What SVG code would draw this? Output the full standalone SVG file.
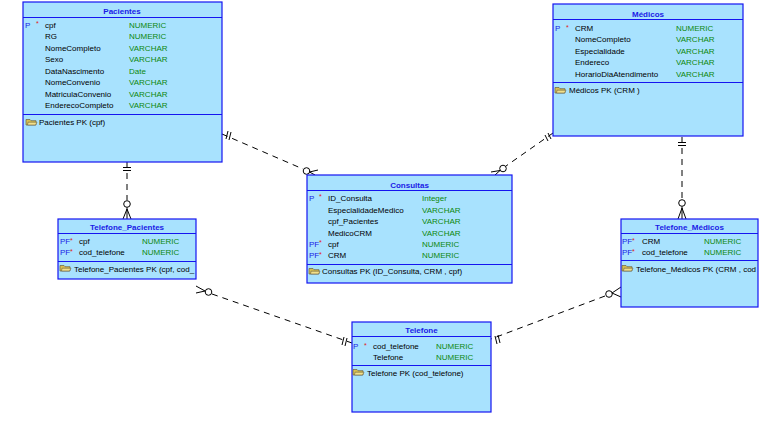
<svg xmlns="http://www.w3.org/2000/svg" width="768" height="421" viewBox="0 0 768 421">
<defs>
<style>
.box{fill:#a8e2fe;stroke:#1515f0;stroke-width:1.2}
.sep{stroke:#1515f0;stroke-width:1}
text{font-family:"Liberation Sans",Arial,sans-serif;font-size:8px;fill:#000}
.hd{font-weight:bold;fill:#1a1ae6;text-anchor:middle}
.ty{fill:#0c880c}
.k{fill:#1a1ae6}
.st{fill:#e02020;font-size:7px}
.con{fill:none;stroke:#000;stroke-width:1;stroke-dasharray:6,5}
.sym{fill:none;stroke:#000;stroke-width:1}
</style>
<g id="keyicon">
<path d="M0,0.5 h4 l1,1.2 h5 v4.3 h-10 z" fill="#d8c050" stroke="#6a6040" stroke-width="0.7"/>
<path d="M2,3.2 h9 l-1.5,2.8 h-8 z" fill="#f2e08a" stroke="#6a6040" stroke-width="0.6"/>
</g>
<clipPath id="cTP"><rect x="58" y="219" width="138" height="60"/></clipPath>
<clipPath id="cTM"><rect x="621" y="219" width="137" height="88"/></clipPath>
</defs>

<g id="connectors">
<!-- Pacientes - Consultas -->
<line class="con" x1="222" y1="134" x2="303" y2="169"/>
<path class="sym" d="M228,131 L226,139 M231,132 L229,140"/>
<circle class="sym" cx="306.5" cy="171" r="3.3"/>
<path class="sym" d="M309.5,172 L318,170 M309.5,172 L315,175"/>
<!-- Médicos - Consultas -->
<line class="con" x1="553" y1="133" x2="506" y2="166"/>
<path class="sym" d="M545,135 L548,141 M548,133 L551,139"/>
<circle class="sym" cx="503" cy="168.5" r="3.3"/>
<path class="sym" d="M500,170.5 L491,172 M500,170.5 L495,175"/>
<!-- Pacientes - Telefone_Pacientes -->
<line class="con" x1="127" y1="162" x2="127" y2="200"/>
<path class="sym" d="M123,167.5 H131 M123,170.5 H131"/>
<circle class="sym" cx="127" cy="204" r="3.3"/>
<path class="sym" d="M127,207.5 V219 M127,209 L123,219 M127,209 L131,219"/>
<!-- Médicos - Telefone_Médicos -->
<line class="con" x1="682" y1="137" x2="682" y2="199"/>
<path class="sym" d="M678,142.5 H686 M678,145.5 H686"/>
<circle class="sym" cx="682" cy="203" r="3.3"/>
<path class="sym" d="M682,206.5 V219 M682,208 L678,219 M682,208 L686,219"/>
<!-- Telefone_Pacientes - Telefone -->
<line class="con" x1="212" y1="294" x2="352" y2="343"/>
<path class="sym" d="M344,337 L342,345 M347,338 L345,346"/>
<circle class="sym" cx="208.5" cy="292" r="3.3"/>
<path class="sym" d="M205,291 L196,286 M205,291 L196,293"/>
<!-- Telefone_Médicos - Telefone -->
<line class="con" x1="605" y1="296" x2="491" y2="339"/>
<path class="sym" d="M495,336 L497,344 M498,335 L500,343"/>
<circle class="sym" cx="609" cy="294" r="3.3"/>
<path class="sym" d="M612,293 L621,287 M612,293 L621,297"/>
</g>

<g id="Pacientes">
<rect class="box" x="23" y="2" width="199" height="160"/>
<line class="sep" x1="23" y1="17.5" x2="222" y2="17.5"/>
<line class="sep" x1="23" y1="114.5" x2="222" y2="114.5"/>
<text class="hd" x="122" y="13.5">Pacientes</text>
<text class="k" x="25" y="27.5">P</text><text class="st" x="36" y="26">*</text>
<text x="45" y="27.5">cpf</text><text class="ty" x="129" y="27.5">NUMERIC</text>
<text x="45" y="39">RG</text><text class="ty" x="129" y="39">NUMERIC</text>
<text x="45" y="50.5">NomeCompleto</text><text class="ty" x="129" y="50.5">VARCHAR</text>
<text x="45" y="62">Sexo</text><text class="ty" x="129" y="62">VARCHAR</text>
<text x="45" y="73.5">DataNascimento</text><text class="ty" x="129" y="73.5">Date</text>
<text x="45" y="85">NomeConvenio</text><text class="ty" x="129" y="85">VARCHAR</text>
<text x="45" y="96.5">MatriculaConvenio</text><text class="ty" x="129" y="96.5">VARCHAR</text>
<text x="45" y="108">EnderecoCompleto</text><text class="ty" x="129" y="108">VARCHAR</text>
<use href="#keyicon" x="26" y="119"/>
<text x="39" y="125">Pacientes PK (cpf)</text>
</g>

<g id="Medicos">
<rect class="box" x="553" y="4" width="190" height="132"/>
<line class="sep" x1="553" y1="19.5" x2="743" y2="19.5"/>
<line class="sep" x1="553" y1="82.5" x2="743" y2="82.5"/>
<text class="hd" x="648" y="16.5">Médicos</text>
<text class="k" x="555" y="31">P</text><text class="st" x="566" y="29.5">*</text>
<text x="575" y="31">CRM</text><text class="ty" x="676" y="31">NUMERIC</text>
<text x="575" y="42">NomeCompleto</text><text class="ty" x="676" y="42">VARCHAR</text>
<text x="575" y="54">Especialidade</text><text class="ty" x="676" y="54">VARCHAR</text>
<text x="575" y="65">Endereco</text><text class="ty" x="676" y="65">VARCHAR</text>
<text x="575" y="76.5">HorarioDiaAtendimento</text><text class="ty" x="676" y="76.5">VARCHAR</text>
<use href="#keyicon" x="555" y="87"/>
<text x="569" y="93">Médicos PK (CRM )</text>
</g>

<g id="Consultas">
<rect class="box" x="307" y="175" width="205" height="108"/>
<line class="sep" x1="307" y1="190.5" x2="512" y2="190.5"/>
<line class="sep" x1="307" y1="264.5" x2="512" y2="264.5"/>
<text class="hd" x="409.5" y="187.5">Consultas</text>
<text class="k" x="309" y="200.5">P</text><text class="st" x="319" y="199">*</text>
<text x="328" y="200.5">ID_Consulta</text><text class="ty" x="422" y="200.5">Integer</text>
<text x="328" y="213">EspecialidadeMedico</text><text class="ty" x="422" y="213">VARCHAR</text>
<text x="328" y="224">cpf_Pacientes</text><text class="ty" x="422" y="224">VARCHAR</text>
<text x="328" y="235.5">MedicoCRM</text><text class="ty" x="422" y="235.5">VARCHAR</text>
<text class="k" x="309" y="246.5">PF</text><text class="st" x="319" y="245">*</text>
<text x="328" y="246.5">cpf</text><text class="ty" x="422" y="246.5">NUMERIC</text>
<text class="k" x="309" y="258">PF</text><text class="st" x="319" y="256.5">*</text>
<text x="328" y="258">CRM</text><text class="ty" x="422" y="258">NUMERIC</text>
<use href="#keyicon" x="309" y="268"/>
<text x="322" y="274">Consultas PK (ID_Consulta, CRM , cpf)</text>
</g>

<g id="Telefone_Pacientes">
<rect class="box" x="58" y="219" width="138" height="60"/>
<line class="sep" x1="58" y1="233.5" x2="196" y2="233.5"/>
<line class="sep" x1="58" y1="261.5" x2="196" y2="261.5"/>
<text class="hd" x="127" y="230">Telefone_Pacientes</text>
<text class="k" x="60" y="244">PF</text><text class="st" x="70" y="242.5">*</text>
<text x="79" y="244">cpf</text><text class="ty" x="142" y="244">NUMERIC</text>
<text class="k" x="60" y="255">PF</text><text class="st" x="70" y="253.5">*</text>
<text x="79" y="255">cod_telefone</text><text class="ty" x="142" y="255">NUMERIC</text>
<use href="#keyicon" x="60" y="265"/>
<text x="74" y="272" clip-path="url(#cTP)">Telefone_Pacientes PK (cpf, cod_</text>
</g>

<g id="Telefone_Medicos">
<rect class="box" x="621" y="219" width="137" height="88"/>
<line class="sep" x1="621" y1="233.5" x2="758" y2="233.5"/>
<line class="sep" x1="621" y1="260.5" x2="758" y2="260.5"/>
<text class="hd" x="689.5" y="230">Telefone_Médicos</text>
<text class="k" x="622" y="244">PF</text><text class="st" x="632" y="242.5">*</text>
<text x="642" y="244">CRM</text><text class="ty" x="704" y="244">NUMERIC</text>
<text class="k" x="622" y="255">PF</text><text class="st" x="632" y="253.5">*</text>
<text x="642" y="255">cod_telefone</text><text class="ty" x="704" y="255">NUMERIC</text>
<use href="#keyicon" x="622" y="265"/>
<text x="636" y="272" clip-path="url(#cTM)">Telefone_Médicos PK (CRM , cod</text>
</g>

<g id="Telefone">
<rect class="box" x="352" y="322" width="139" height="90"/>
<line class="sep" x1="352" y1="336.5" x2="491" y2="336.5"/>
<line class="sep" x1="352" y1="365.5" x2="491" y2="365.5"/>
<text class="hd" x="421.5" y="333">Telefone</text>
<text class="k" x="353" y="349">P</text><text class="st" x="364" y="347.5">*</text>
<text x="373" y="349">cod_telefone</text><text class="ty" x="436" y="349">NUMERIC</text>
<text x="373" y="360">Telefone</text><text class="ty" x="436" y="360">NUMERIC</text>
<use href="#keyicon" x="353" y="369"/>
<text x="367" y="376">Telefone PK (cod_telefone)</text>
</g>
</svg>
